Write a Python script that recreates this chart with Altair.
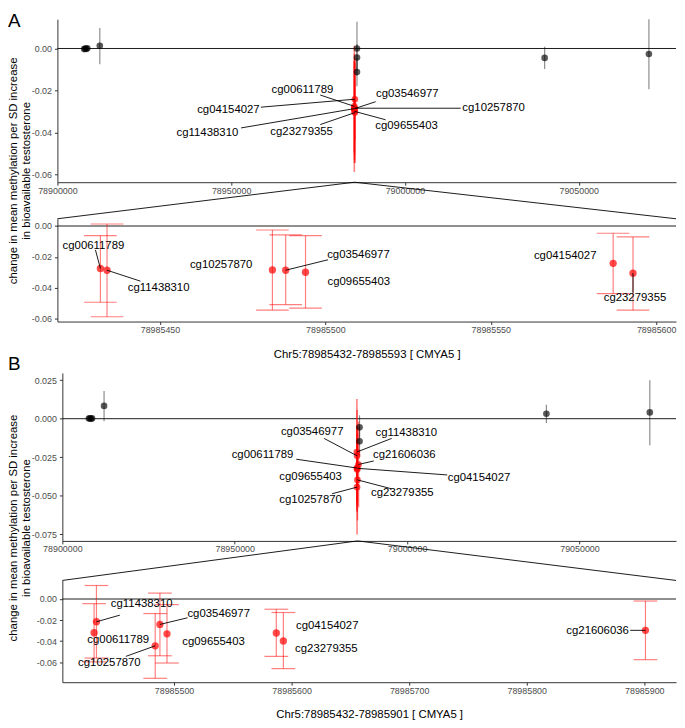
import altair as alt
import pandas as pd

FONT = "Liberation Sans"
W = 626

# ---------------- Panel A ----------------
a_cpg = ["cg00611789", "cg11438310", "cg10257870", "cg03546977",
         "cg09655403", "cg04154027", "cg23279355"]
a_pos = [78985432, 78985434, 78985484, 78985488, 78985494, 78985587, 78985593]
a_beta = [-0.0276, -0.0287, -0.0285, -0.0287, -0.0300, -0.0242, -0.0306]
a_lo = [-0.0495, -0.0589, -0.0546, -0.0510, -0.0533, -0.0439, -0.0546]
a_hi = [-0.0062, 0.0013, -0.0026, -0.0058, -0.0062, -0.0047, -0.0071]

a_bk_pos = [78907700, 78908000, 78908300, 78908600, 78912200,
            78986200, 78986200, 78986200, 79040200, 79070200]
a_bk_beta = [-0.0003, 0.0000, -0.0002, 0.0001, 0.0013,
             0.0000, -0.0043, -0.0112, -0.0045, -0.0026]
a_bk_lo = [-0.0008, -0.0005, -0.0007, -0.0004, -0.0075,
           -0.0130, -0.0105, -0.0180, -0.0098, -0.0195]
a_bk_hi = [0.0002, 0.0005, 0.0003, 0.0006, 0.0098,
           0.0128, 0.0020, -0.0045, 0.0008, 0.0140]

a_top_lab_x = [78970501, 78943166, 79025513, 79000683, 79000456, 78949203, 78970273]
a_top_lab_y = [-0.0196, -0.0405, -0.0285, -0.0219, -0.0371, -0.0296, -0.0397]
a_top_seg_x = [78975626, 78952847, 79016059, 78991572, 78994419, 78958542, 78975626]
a_top_seg_y = [-0.0222, -0.0379, -0.0285, -0.0254, -0.0340, -0.0280, -0.0363]

a_low_lab_x = [78985429.9, 78985449.6, 78985468.5, 78985510.0, 78985510.1, 78985572.5, 78985593.6]
a_low_lab_y = [-0.0127, -0.0405, -0.0251, -0.0186, -0.0362, -0.0195, -0.0469]
a_low_seg_x = [78985430.5, 78985444.1, None, 78985500.8, None, None, 78985593.0]
a_low_seg_y = [-0.0155, -0.0358, None, -0.0219, None, None, -0.0433]

# ---------------- Panel B ----------------
b_cpg = ["cg00611789", "cg11438310", "cg10257870", "cg03546977",
         "cg09655403", "cg04154027", "cg23279355", "cg21606036"]
b_pos = [78985432, 78985434, 78985484, 78985488, 78985494, 78985587, 78985593, 78985901]
b_beta = [-0.0320, -0.0216, -0.0444, -0.0241, -0.0330, -0.0322, -0.0397, -0.0297]
b_lo = [-0.0596, -0.0560, -0.0752, -0.0538, -0.0607, -0.0544, -0.0660, -0.0575]
b_hi = [-0.0044, 0.0128, -0.0138, 0.0056, -0.0053, -0.0097, -0.0128, -0.0019]

b_bk_pos = [78907700, 78908000, 78908300, 78908600, 78912100,
            78986200, 78986200, 79040400, 79070400]
b_bk_beta = [0.0001, 0.0003, 0.0000, 0.0002, 0.0083, -0.0056, -0.0147, 0.0032, 0.0041]
b_bk_lo = [-0.0004, -0.0002, -0.0005, -0.0003, -0.0017, -0.0127, -0.0245, -0.0028, -0.0173]
b_bk_hi = [0.0006, 0.0008, 0.0005, 0.0007, 0.0179, 0.0022, -0.0050, 0.0090, 0.0250]

b_top_lab_x = [78958065, 78999770, 78972005, 78972465, 78972005, 79020853, 78998618, 78999194]
b_top_lab_y = [-0.0239, -0.0092, -0.0530, -0.0088, -0.0380, -0.0385, -0.0481, -0.0237]
b_top_seg_x = [78967857, 78995507, 78978226, 78975922, None, 79011636, 78995507, 78990323]
b_top_seg_y = [-0.0263, -0.0128, -0.0487, -0.0128, None, -0.0365, -0.0455, -0.0274]

b_low_lab_x = [78985452.5, 78985472.5, 78985445.0, 78985538.0, 78985533.6, 78985630.3, 78985629.6, 78985860.3]
b_low_lab_y = [-0.0393, -0.0052, -0.0610, -0.0138, -0.0410, -0.0253, -0.0472, -0.0303]
b_low_seg_x = [None, 78985453.9, 78985459.0, 78985511.5, None, None, None, 78985888.0]
b_low_seg_y = [None, -0.0153, -0.0544, -0.0178, None, None, None, -0.0297]

# axes
top_x_dom = [78900000, 79078000]
top_x_ticks = [78900000, 78950000, 79000000, 79050000]
a_top_y_dom = [-0.0638, 0.0140]
a_low_x_dom = [78985419, 78985606]
a_low_y_dom = [-0.0620, 0.0047]
a_low_x_ticks = [78985450, 78985500, 78985550, 78985600]
b_top_y_dom = [-0.0793, 0.0297]
b_top_y_ticks = [0.025, 0.0, -0.025, -0.05, -0.075]
b_low_x_dom = [78985405, 78985927]
b_low_y_dom = [-0.0789, 0.0176]
b_low_x_ticks = [78985500, 78985600, 78985700, 78985800, 78985900]
ab_y_ticks = [0.0, -0.02, -0.04, -0.06]

y_title = ["change in mean methylation per SD increase", "in bioavailable testosterone"]
a_title = "Chr5:78985432-78985593 [ CMYA5 ]"
b_title = "Chr5:78985432-78985901 [ CMYA5 ]"


def make_panel(width, height, xdom, ydom, xticks, yticks, yfmt, red, black,
               lab, below=0, left=0, xtitle=None, ytitle=None, ytitle_y=0, letter=None,
               letter_y=0, apex=None, zoom=False, cap_px=0):
    """Plot area spans x in [left, width], y in [0, height]; `below` px reserved under it."""
    xs = alt.Scale(domain=xdom, nice=False, zero=False, range=[left, width])
    ys = alt.Scale(domain=ydom, nice=False, zero=False, range=[height, 0])
    xkw = dict(values=xticks, format="d", labelFlush=False, labelOverlap=False,
               grid=False, tickSize=3, tickColor="#333333", domainColor="#333333",
               labelPadding=1, labelFontSize=9, labelColor="#4d4d4d", labelFont=FONT,
               offset=-below)
    if xtitle:
        xkw.update(title=xtitle, titleFont=FONT, titleFontSize=11.5,
                   titleFontWeight="normal", titleColor="black", titlePadding=14)
    else:
        xkw["title"] = None
    ykw = dict(values=yticks, format=yfmt, labelExpr="replace(datum.label, '\u2212', '-')",
               grid=False, tickSize=3, tickColor="#333333", domainColor="#333333",
               labelPadding=3, labelFontSize=9, labelColor="#4d4d4d", labelFont=FONT,
               offset=-left)
    if ytitle:
        ykw.update(title=ytitle, titleFont=FONT, titleFontSize=11.5,
                   titleFontWeight="normal", titleColor="black", titleAngle=270,
                   titleX=-50 - left, titleY=ytitle_y, titleAlign="center",
                   titleBaseline="top", titleLineHeight=13)
    else:
        ykw["title"] = None
    xa = alt.Axis(**xkw)
    ya = alt.Axis(**ykw)

    def X(f):
        return alt.X(f, type="quantitative", scale=xs, axis=xa)

    def Y(f):
        return alt.Y(f, type="quantitative", scale=ys, axis=ya)

    layers = []
    layers.append(alt.Chart(pd.DataFrame({"z": [0.0]})).mark_rule(
        color="#1a1a1a", strokeWidth=1).encode(
            y=Y("z"), x=alt.value(left), x2=alt.value(width)))

    if black is not None:
        layers.append(alt.Chart(black).mark_rule(color="black", opacity=0.45, strokeWidth=1.2)
                      .encode(x=X("pos"), y=Y("lo"), y2=alt.Y2("hi")))
    if zoom:
        layers.append(alt.Chart(red).mark_rule(color="red", opacity=0.5, strokeWidth=1.2)
                      .encode(x=X("pos"), y=Y("lo"), y2=alt.Y2("hi")))
        half = cap_px / 2 * (xdom[1] - xdom[0]) / (width - left)
        caps = pd.concat([
            pd.DataFrame({"x1": red["pos"] - half, "x2": red["pos"] + half, "yv": red["lo"]}),
            pd.DataFrame({"x1": red["pos"] - half, "x2": red["pos"] + half, "yv": red["hi"]}),
        ])
        layers.append(alt.Chart(caps).mark_rule(color="red", opacity=0.5, strokeWidth=1.2)
                      .encode(x=X("x1"), x2=alt.X2("x2"), y=Y("yv")))
    else:
        layers.append(alt.Chart(red).mark_rule(color="red", opacity=0.5, strokeWidth=1.6)
                      .encode(x=X("pos"), y=Y("lo"), y2=alt.Y2("hi")))

    if black is not None:
        layers.append(alt.Chart(black).mark_circle(color="black", opacity=0.65, size=45)
                      .encode(x=X("pos"), y=Y("beta")))
    layers.append(alt.Chart(red).mark_circle(color="red", opacity=0.7,
                                             size=55 if zoom else 45)
                  .encode(x=X("pos"), y=Y("beta")))

    seg = lab.dropna()
    layers.append(alt.Chart(seg).mark_rule(color="black", strokeWidth=0.9)
                  .encode(x=X("pos"), y=Y("beta"), x2=alt.X2("sx"), y2=alt.Y2("sy")))
    layers.append(alt.Chart(lab).mark_text(font=FONT, fontSize=11.5, color="black")
                  .encode(x=X("lx"), y=Y("ly"), text="cpg:N"))

    if apex is not None:
        tri = alt.Chart(pd.DataFrame({"apex": [apex]}))
        layers.append(tri.mark_rule(color="black", strokeWidth=0.9).encode(
            x=X("apex"), y=alt.value(height), x2=alt.value(left), y2=alt.value(height + below)))
        layers.append(tri.mark_rule(color="black", strokeWidth=0.9).encode(
            x=X("apex"), y=alt.value(height), x2=alt.value(width), y2=alt.value(height + below)))
    if letter:
        layers.append(alt.Chart(pd.DataFrame({"t": [letter]})).mark_text(
            align="left", baseline="top", font=FONT, fontSize=19, color="black")
            .encode(x=alt.value(-50), y=alt.value(letter_y), text="t:N"))

    return alt.layer(*layers).properties(width=width, height=height + below)


a_red = pd.DataFrame({"cpg": a_cpg, "pos": a_pos, "beta": a_beta, "lo": a_lo, "hi": a_hi})
a_blk = pd.DataFrame({"pos": a_bk_pos, "beta": a_bk_beta, "lo": a_bk_lo, "hi": a_bk_hi})
b_red = pd.DataFrame({"cpg": b_cpg, "pos": b_pos, "beta": b_beta, "lo": b_lo, "hi": b_hi})
b_blk = pd.DataFrame({"pos": b_bk_pos, "beta": b_bk_beta, "lo": b_bk_lo, "hi": b_bk_hi})


def labels(red, lx, ly, sx, sy):
    d = red[["cpg", "pos", "beta"]].copy()
    d["lx"] = lx
    d["ly"] = ly
    d["sx"] = pd.to_numeric(pd.Series(sx, dtype="object"), errors="coerce").values
    d["sy"] = pd.to_numeric(pd.Series(sy, dtype="object"), errors="coerce").values
    return d


A_H, A_GAP, AL_H = 165, 37, 104
AB_GAP = 52
B_H, B_GAP, BL_H = 170, 40, 103
B_LEFT = 5

a_top = make_panel(W, A_H, top_x_dom, a_top_y_dom, top_x_ticks, ab_y_ticks, ".2f",
                   a_red, a_blk, labels(a_red, a_top_lab_x, a_top_lab_y, a_top_seg_x, a_top_seg_y),
                   below=A_GAP, ytitle=y_title, ytitle_y=(A_H + A_GAP + AL_H) / 2,
                   letter="A", letter_y=-7, apex=(a_pos[0] + a_pos[-1]) / 2)
a_low = make_panel(W, AL_H, a_low_x_dom, a_low_y_dom, a_low_x_ticks, ab_y_ticks, ".2f",
                   a_red, None, labels(a_red, a_low_lab_x, a_low_lab_y, a_low_seg_x, a_low_seg_y),
                   below=AB_GAP, xtitle=a_title, zoom=True, cap_px=33)
b_top = make_panel(W, B_H, top_x_dom, b_top_y_dom, top_x_ticks, b_top_y_ticks, ".3f",
                   b_red, b_blk, labels(b_red, b_top_lab_x, b_top_lab_y, b_top_seg_x, b_top_seg_y),
                   below=B_GAP, left=B_LEFT, ytitle=y_title, ytitle_y=(B_H + B_GAP + BL_H) / 2,
                   letter="B", letter_y=-18, apex=(b_pos[0] + b_pos[-1]) / 2)
b_low = make_panel(W, BL_H, b_low_x_dom, b_low_y_dom, b_low_x_ticks, ab_y_ticks, ".2f",
                   b_red, None, labels(b_red, b_low_lab_x, b_low_lab_y, b_low_seg_x, b_low_seg_y),
                   left=B_LEFT, xtitle=b_title, zoom=True, cap_px=24)

chart = (alt.vconcat(a_top, a_low, b_top, b_low, spacing=0, bounds="flush")
         .properties(padding=0)
         .configure(font=FONT)
         .configure_view(stroke=None, strokeWidth=0))

chart.save("out.html", embed_options={"renderer": "svg", "actions": False})
